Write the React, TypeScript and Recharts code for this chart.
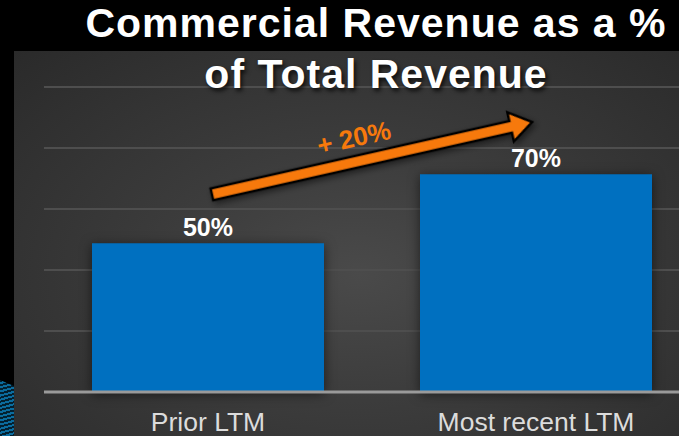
import { BarChart, Bar, Cell, CartesianGrid, XAxis, YAxis, LabelList, ReferenceLine } from "recharts";

const categories = ['Prior LTM', 'Most recent LTM'];
const shares = [48.8, 71.4];
const valueLabels = ['50%', '70%'];
const yTicks = [0, 20, 40, 60, 80, 100];
// arrow annotation, in axis units
const arrowFrom = 64.5;
const arrowTo = 88.8;
const arrowText = '+ 20%';
const titleLines = ['Commercial Revenue as a %', 'of Total Revenue'];

const data = categories.map((name, i) => ({ name, share: shares[i], label: valueLabels[i] }));

const font = '"Liberation Sans", Arial, Helvetica, sans-serif';

const XTick = ({ x, y, payload }: any) => (
    <text x={x} y={y + 31} textAnchor="middle" fill="#dcdcdc" fontSize={26.5} fontFamily={font}>
        {payload.value}
    </text>
);

const ArrowShape = ({ x1, y1, x2, y2 }: any) => {
    const dx = x2 - x1, dy = y2 - y1;
    const len = Math.sqrt(dx * dx + dy * dy);
    const ang = Math.atan2(dy, dx) * 180 / Math.PI;
    const L = len - 8;
    const pts = [[0, -6], [L - 22, -6], [L - 22, -15], [L, 0], [L - 22, 15], [L - 22, 6], [0, 6]]
        .map(p => p.join(',')).join(' ');
    return (
        <g transform={`translate(${x1 + 4 * dx / len},${y1 + 4 * dy / len}) rotate(${ang})`}>
            <polygon points={pts} fill="#F7790C" stroke="#000" strokeWidth={2.5} strokeLinejoin="miter"
                style={{ filter: 'drop-shadow(2px 3px 3px rgba(0,0,0,0.5))' }} />
            <text x={L * 0.46} y={-15} textAnchor="middle" fill="#F7790C" fontSize={26} fontWeight="bold" fontFamily={font}>
                {arrowText}
            </text>
        </g>
    );
};

export default function App() {
    return (
        <div style={{ position: 'fixed', left: 0, top: 0, width: 679, height: 436, background: '#000', overflow: 'hidden', fontFamily: font }}>
            <div style={{
                position: 'absolute', left: 14, top: 51, width: 665, height: 385,
                background: 'radial-gradient(ellipse at 52% 58%, #4a4a4a 0%, #3c3c3c 40%, #2a2a2a 100%)'
            }} />
            <div style={{
                position: 'absolute', left: 0, top: 378, width: 14, height: 58,
                background: 'repeating-linear-gradient(165deg, #0b6c9e 0px, #0b6c9e 2px, #03202f 2px, #03202f 4px)',
                clipPath: 'polygon(0 2px, 14px 8px, 14px 58px, 0 58px)'
            }} />
            <div style={{ position: 'absolute', left: 0, top: 0 }}>
                <BarChart width={700} height={436} data={data} margin={{ top: 87, right: 0, bottom: 0, left: 44 }}>
                    <CartesianGrid vertical={false} stroke="#4e4e4e" strokeWidth={2} />
                    <YAxis hide domain={[0, 100]} ticks={yTicks} />
                    <XAxis dataKey="name" height={44} axisLine={{ stroke: '#9a9a9a', strokeWidth: 3 }} tickLine={false} tick={<XTick />} interval={0} />
                    <Bar dataKey="share" barSize={232} isAnimationActive={false}>
                        {data.map((d, i) => (
                            <Cell key={`cell-${i}`} fill="#0070C0" style={{ filter: 'drop-shadow(0px 2px 6px rgba(0,0,0,0.55))' }} />
                        ))}
                        <LabelList dataKey="label" position="top" offset={7} fill="#fff" fontSize={25} fontWeight="bold" fontFamily={font} />
                    </Bar>
                    <ReferenceLine
                        segment={[{ x: categories[0], y: arrowFrom }, { x: categories[1], y: arrowTo }]}
                        ifOverflow="visible"
                        shape={<ArrowShape />}
                    />
                </BarChart>
            </div>
            <svg width={679} height={436} style={{ position: 'absolute', left: 0, top: 0, pointerEvents: 'none' }}>
                {titleLines.map((t, i) => (
                    <text key={t} x={376} y={37 + i * 51} textAnchor="middle" fill="#fff" fontSize={41} fontWeight="bold"
                        fontFamily={font} letterSpacing={1} style={{ textShadow: '2px 3px 4px rgba(0,0,0,0.75)' }}>
                        {t}
                    </text>
                ))}
            </svg>
        </div>
    );
}
